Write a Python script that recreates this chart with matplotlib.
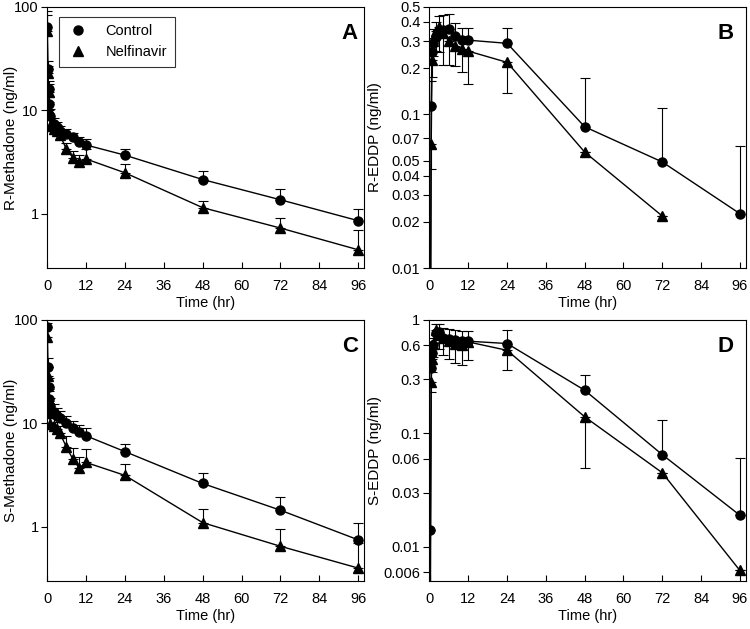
import numpy as np
import matplotlib
matplotlib.use("Agg")
import matplotlib.pyplot as plt

plt.rcParams["font.family"] = ["Liberation Sans", "DejaVu Sans"]
plt.rcParams["font.size"] = 10.5

# sampling times (hr)
time = [0.083, 0.25, 0.5, 0.75, 1, 2, 3, 4, 6, 8, 10, 12, 24, 48, 72, 96]

# R-methadone (ng/ml)
r_meth_ctl = [64, 25, 16.2, 11.6, 8.9, 7.4, 6.85, 6.35, 5.9, 5.5, 4.96, 4.64, 3.7, 2.15, 1.37, 0.86]
r_meth_ctl_sd = [28, 5, 3, 2, 1.5, 1.0, 0.9, 0.8, 0.7, 0.6, 0.6, 0.6, 0.5, 0.44, 0.37, 0.26]
r_meth_nel = [58, 23, 15, 10, 7.0, 6.6, 6.3, 5.8, 4.2, 3.5, 3.15, 3.4, 2.5, 1.15, 0.73, 0.45]
r_meth_nel_sd = [25, 4, 3, 2, 1.2, 1.0, 0.9, 0.8, 0.7, 0.6, 0.55, 0.8, 0.55, 0.19, 0.18, 0.25]

# R-EDDP (ng/ml); values below 0.01 fall off the axis
r_eddp_ctl = [0.003, 0.003, 0.114, 0.255, 0.292, 0.32, 0.344, 0.355, 0.36, 0.322, 0.307, 0.304, 0.29, 0.083, 0.049, 0.0226]
r_eddp_ctl_sd = [0, 0, 0.05, 0.06, 0.07, 0.08, 0.09, 0.09, 0.09, 0.07, 0.06, 0.06, 0.075, 0.09, 0.061, 0.04]
r_eddp_nel = [0.003, 0.003, 0.064, 0.226, 0.30, 0.35, 0.373, 0.34, 0.30, 0.278, 0.268, 0.258, 0.218, 0.0568, 0.0218, np.nan]
r_eddp_nel_sd = [0, 0, 0.02, 0.05, 0.06, 0.09, 0.12, 0.13, 0.09, 0.07, 0.08, 0.10, 0.08, 0, 0, 0]

# S-methadone (ng/ml)
s_meth_ctl = [85, 35, 22.5, 17.3, 14.7, 12.8, 11.9, 11.2, 10.1, 9.0, 8.2, 7.6, 5.35, 2.63, 1.45, 0.75]
s_meth_ctl_sd = [40, 8, 5, 4, 3, 2.5, 2.2, 2, 1.8, 1.6, 1.5, 1.5, 1.0, 0.7, 0.5, 0.35]
s_meth_nel = [69, 29, 16.6, 12.6, 9.9, 9.4, 8.8, 8.0, 5.9, 4.5, 3.7, 4.2, 3.15, 1.1, 0.65, 0.4]
s_meth_nel_sd = [25, 6, 4, 3, 2, 1.8, 1.6, 1.4, 1.6, 1.3, 1.0, 1.5, 0.9, 0.4, 0.3, 0.3]

# S-EDDP (ng/ml)
s_eddp_ctl = [0.003, 0.0141, 0.378, 0.507, 0.6, 0.766, 0.78, 0.70, 0.68, 0.667, 0.65, 0.65, 0.62, 0.24, 0.065, 0.019]
s_eddp_ctl_sd = [0, 0, 0.1, 0.1, 0.1, 0.15, 0.15, 0.15, 0.15, 0.15, 0.15, 0.15, 0.2, 0.09, 0.065, 0.042]
s_eddp_nel = [0.003, 0.003, 0.283, 0.45, 0.62, 0.82, 0.75, 0.69, 0.65, 0.62, 0.6, 0.64, 0.54, 0.14, 0.045, 0.0062]
s_eddp_nel_sd = [0, 0, 0.05, 0.1, 0.15, 0.15, 0.2, 0.2, 0.2, 0.2, 0.2, 0.2, 0.18, 0.09, 0, 0]

panels = [
    ("A", "R-Methadone (ng/ml)", r_meth_ctl, r_meth_ctl_sd, r_meth_nel, r_meth_nel_sd,
     (0.3, 100), [1, 10, 100], ["1", "10", "100"], 1),
    ("B", "R-EDDP (ng/ml)", r_eddp_ctl, r_eddp_ctl_sd, r_eddp_nel, r_eddp_nel_sd,
     (0.01, 0.5), [0.01, 0.02, 0.03, 0.04, 0.05, 0.07, 0.1, 0.2, 0.3, 0.4, 0.5],
     ["0.01", "0.02", "0.03", "0.04", "0.05", "0.07", "0.1", "0.2", "0.3", "0.4", "0.5"], -1),
    ("C", "S-Methadone (ng/ml)", s_meth_ctl, s_meth_ctl_sd, s_meth_nel, s_meth_nel_sd,
     (0.3, 100), [1, 10, 100], ["1", "10", "100"], 1),
    ("D", "S-EDDP (ng/ml)", s_eddp_ctl, s_eddp_ctl_sd, s_eddp_nel, s_eddp_nel_sd,
     (0.005, 1), [0.006, 0.01, 0.03, 0.06, 0.1, 0.3, 0.6, 1],
     ["0.006", "0.01", "0.03", "0.06", "0.1", "0.3", "0.6", "1"], -1),
]

# axes rectangles in figure fractions (left, bottom, width, height)
rects = [
    (0.0627, 0.5739, 0.4227, 0.415),
    (0.5715, 0.5739, 0.4227, 0.415),
    (0.0627, 0.0763, 0.4227, 0.415),
    (0.5715, 0.0763, 0.4227, 0.415),
]

fig = plt.figure(figsize=(7.5, 6.29), dpi=100)
t = np.array(time)

for (letter, ylabel, ctl, ctl_sd, nel, nel_sd, ylim, yt, ytl, nel_dir), rect in zip(panels, rects):
    ax = fig.add_axes(rect)
    ctl = np.array(ctl, dtype=float)
    nel = np.array(nel, dtype=float)
    ctl_sd = np.array(ctl_sd, dtype=float)
    nel_sd = np.array(nel_sd, dtype=float)
    zero = np.zeros_like(ctl)

    ax.errorbar(t, ctl, yerr=[zero, ctl_sd], fmt="none", ecolor="black",
                elinewidth=0.8, capsize=3.5, capthick=0.8, zorder=2)
    if nel_dir > 0:
        nerr = [zero, nel_sd]
    else:
        # nelfinavir bars point down on the EDDP panels
        nerr = [np.minimum(nel_sd, nel * 0.999), zero]
    ax.errorbar(t, nel, yerr=nerr, fmt="none", ecolor="black",
                elinewidth=0.8, capsize=3.5, capthick=0.8, zorder=2)

    ax.plot(t, ctl, "-o", color="black", lw=1, ms=6.5, label="Control", zorder=3)
    ax.plot(t, nel, "-^", color="black", lw=1, ms=7, label="Nelfinavir", zorder=3)

    ax.set_yscale("log")
    ax.set_ylim(*ylim)
    ax.set_yticks(yt)
    ax.set_yticklabels(ytl)
    ax.yaxis.set_minor_locator(matplotlib.ticker.NullLocator())
    ax.set_xlim(-0.3 if nel_dir < 0 else 0, 97.8)
    ax.set_xticks(range(0, 97, 12))
    ax.tick_params(axis="x", direction="in", length=4, width=0.8, pad=8)
    ax.tick_params(axis="y", direction="out", length=4, width=0.8, pad=2)
    ax.set_xlabel("Time (hr)", labelpad=2)
    ax.set_ylabel(ylabel, fontsize=11)
    ax.yaxis.set_label_coords(-0.092 if nel_dir > 0 else -0.146, 0.5)
    for sp in ax.spines.values():
        sp.set_linewidth(0.8)
    ax.text(0.98 if nel_dir > 0 else 0.962, 0.94, letter, transform=ax.transAxes,
            ha="right", va="top", fontsize=16, fontweight="bold")

    if letter == "A":
        leg = ax.legend(loc="upper left", bbox_to_anchor=(0.038, 0.962), frameon=True,
                        fancybox=False, edgecolor="black", borderpad=0.5,
                        borderaxespad=0, handlelength=1.6, handletextpad=1.1,
                        labelspacing=0.5)
        leg.get_frame().set_linewidth(0.8)
        for h in leg.legend_handles:
            h.set_linestyle("none")

fig.savefig("out.png", dpi=100)
